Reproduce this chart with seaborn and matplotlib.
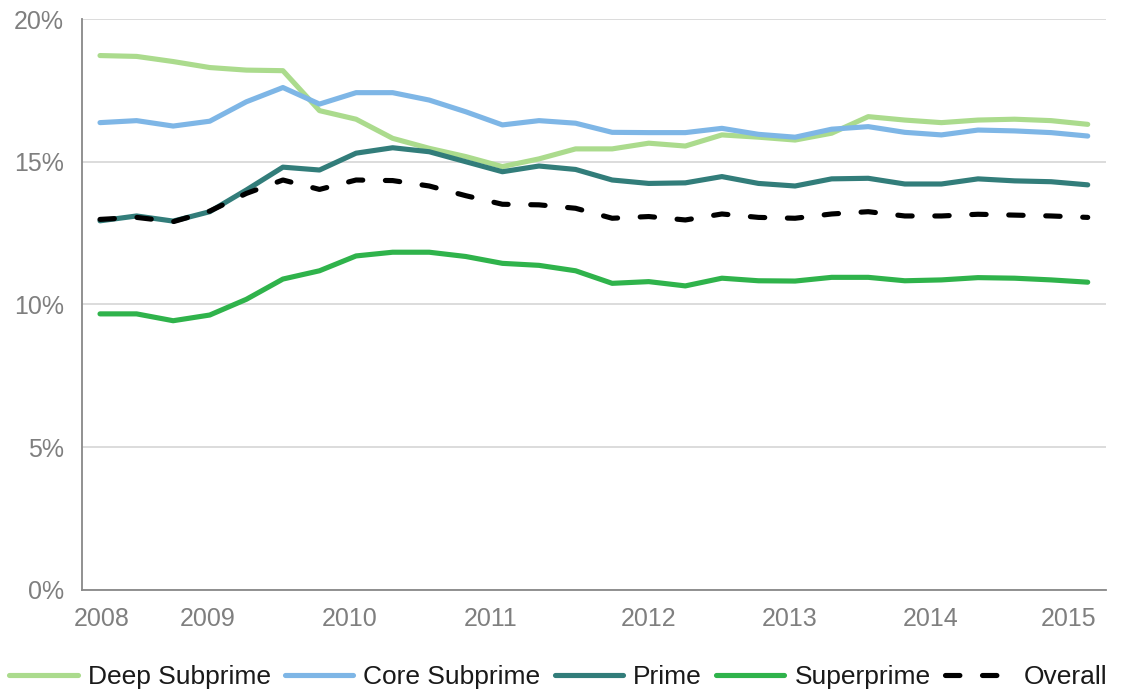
import numpy as np
import pandas as pd
import matplotlib
matplotlib.use("Agg")
import matplotlib.pyplot as plt
import seaborn as sns

deep_subprime = [18.72, 18.69, 18.51, 18.30, 18.21, 18.19, 16.79, 16.49, 15.82, 15.47,
                 15.18, 14.83, 15.10, 15.45, 15.45, 15.65, 15.55, 15.94, 15.86, 15.76,
                 16.00, 16.58, 16.46, 16.37, 16.46, 16.49, 16.44, 16.31]
core_subprime = [16.37, 16.44, 16.25, 16.42, 17.10, 17.60, 17.02, 17.42, 17.42, 17.16,
                 16.75, 16.29, 16.44, 16.35, 16.03, 16.02, 16.02, 16.17, 15.96, 15.86,
                 16.14, 16.23, 16.03, 15.94, 16.11, 16.08, 16.02, 15.90]
prime = [12.93, 13.10, 12.92, 13.25, 14.01, 14.81, 14.71, 15.30, 15.49, 15.35,
         15.00, 14.65, 14.85, 14.73, 14.36, 14.24, 14.26, 14.48, 14.24, 14.15,
         14.40, 14.42, 14.22, 14.22, 14.40, 14.33, 14.30, 14.19]
superprime = [9.67, 9.67, 9.43, 9.63, 10.18, 10.89, 11.18, 11.70, 11.83, 11.83,
              11.68, 11.44, 11.37, 11.18, 10.74, 10.80, 10.65, 10.92, 10.83, 10.82,
              10.95, 10.95, 10.83, 10.86, 10.94, 10.92, 10.86, 10.78]
overall = [12.98, 13.05, 12.90, 13.27, 13.89, 14.36, 14.03, 14.36, 14.34, 14.15,
           13.81, 13.51, 13.49, 13.37, 13.02, 13.08, 12.96, 13.17, 13.05, 13.02,
           13.17, 13.25, 13.10, 13.10, 13.16, 13.13, 13.10, 13.05]

year_labels = ["2008", "2009", "2010", "2011", "2012", "2013", "2014", "2015"]
y_ticks = [0, 5, 10, 15, 20]

series = {
    "Deep Subprime": deep_subprime,
    "Core Subprime": core_subprime,
    "Prime": prime,
    "Superprime": superprime,
    "Overall": overall,
}
colors = {
    "Deep Subprime": "#abdb8d",
    "Core Subprime": "#7eb6e6",
    "Prime": "#327d7a",
    "Superprime": "#2fb34b",
    "Overall": "#000000",
}

df = pd.DataFrame(series)
df["periode"] = range(len(df))
df_long = df.melt(id_vars="periode", var_name="Segment", value_name="Taux")

sns.set_style("white")
plt.rcParams["font.family"] = ["Liberation Sans", "DejaVu Sans"]

fig = plt.figure(figsize=(11.24, 6.94), dpi=100)
ax = fig.add_axes([0.0727, 0.150, 0.984 - 0.0727, 0.9726 - 0.150])

for name in series:
    sub = df_long[df_long["Segment"] == name]
    line_kw = dict(lw=3.7, solid_capstyle="round")
    if name == "Overall":
        line_kw = dict(lw=3.7, linestyle=(0, (2.8, 4.4)), dash_capstyle="round")
    sns.lineplot(data=sub, x="periode", y="Taux", color=colors[name], label=name,
                 ax=ax, **line_kw)

ax.set_xlim(-0.5, 27.5)
ax.set_ylim(0, 20)

# graduations (style Excel : traits aux bornes, libellés décalés)
ax.set_xticks([-0.5, 3.36, 7.24, 11.09, 15.41, 19.23, 23.09, 26.91])
ax.set_xticks([0.05, 2.95, 6.83, 10.68, 15.0, 18.85, 22.7, 26.48], minor=True)
ax.set_xticklabels([])
ax.set_xticklabels(year_labels, minor=True)
ax.tick_params(axis="x", which="major", length=7, width=1.3, color="#888888", direction="out")
ax.tick_params(axis="x", which="minor", length=0, pad=12, labelsize=18, labelcolor="#7f7f7f")

ax.set_yticks(y_ticks)
ax.set_yticklabels([f"{v}%" for v in y_ticks])
ax.tick_params(axis="y", length=7, width=1.3, color="#888888", direction="out",
               pad=6, labelsize=18, labelcolor="#7f7f7f")

ax.yaxis.grid(True, color="#d9d9d9", lw=1.3)
ax.xaxis.grid(False)
ax.set_axisbelow(True)
for side in ["top", "right"]:
    ax.spines[side].set_visible(False)
for side in ["left", "bottom"]:
    ax.spines[side].set_color("#888888")
    ax.spines[side].set_linewidth(1.3)

ax.set_xlabel("")
ax.set_ylabel("")

ax.legend(loc="center", bbox_to_anchor=(0.465, -0.153), ncol=5, frameon=False,
          fontsize=19, handlelength=2.6, handletextpad=0.38, columnspacing=0.53,
          borderaxespad=0, labelcolor="#1a1a1a")

fig.savefig("out.png", dpi=100)
